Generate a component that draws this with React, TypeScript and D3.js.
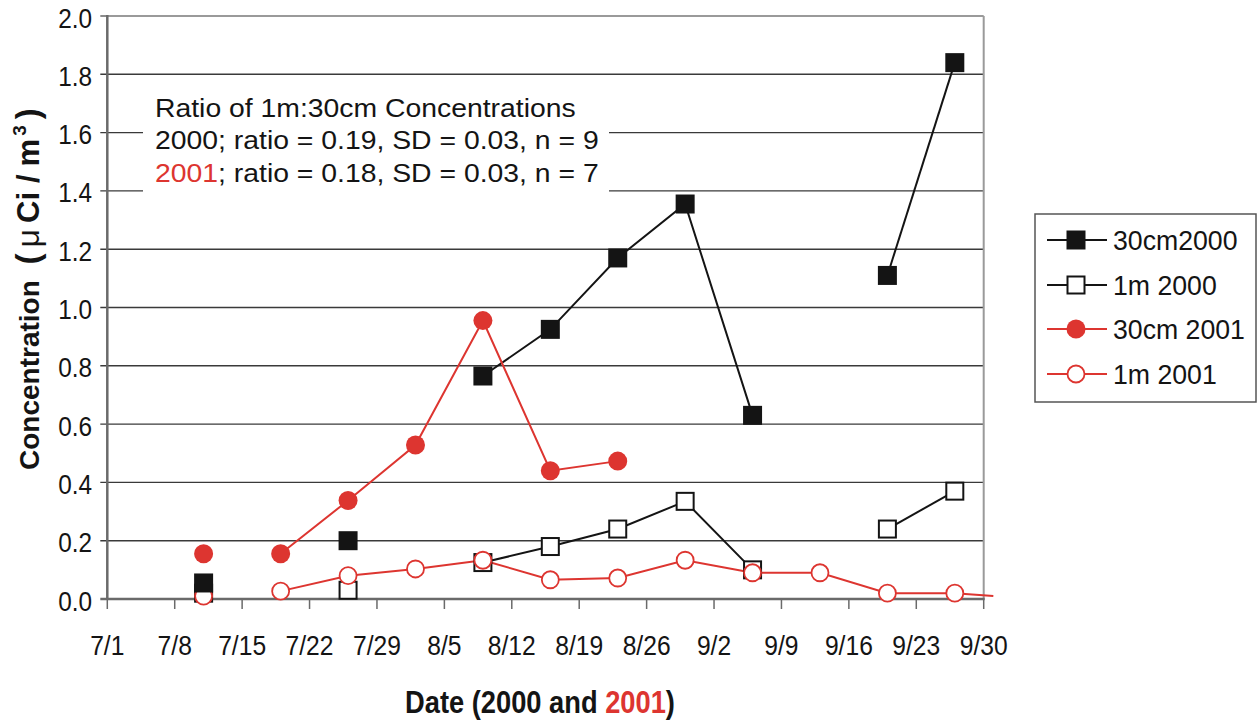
import React from "react";
import * as d3 from "d3";

// tick labels
const xTickLabels = ["7/1", "7/8", "7/15", "7/22", "7/29", "8/5", "8/12", "8/19", "8/26", "9/2", "9/9", "9/16", "9/23", "9/30"];
const yTicks = [0, 0.2, 0.4, 0.6, 0.8, 1.0, 1.2, 1.4, 1.6, 1.8, 2.0];

// each series is a list of connected runs: [date, value]
const cm30_2000: [string, number][][] = [
  [["7/11", 0.055]],
  [["7/26", 0.2]],
  [["8/9", 0.765], ["8/16", 0.925], ["8/23", 1.17], ["8/30", 1.355], ["9/6", 0.63]],
  [["9/20", 1.11], ["9/27", 1.84]],
];
const m1_2000: [string, number][][] = [
  [["7/11", 0.02]],
  [["7/26", 0.03]],
  [["8/9", 0.125], ["8/16", 0.18], ["8/23", 0.24], ["8/30", 0.335], ["9/6", 0.1]],
  [["9/20", 0.24], ["9/27", 0.37]],
];
const cm30_2001: [string, number][][] = [
  [["7/11", 0.155]],
  [["7/19", 0.155], ["7/26", 0.338], ["8/2", 0.528], ["8/9", 0.955], ["8/16", 0.44], ["8/23", 0.473]],
];
const m1_2001: [string, number][][] = [
  [["7/11", 0.01]],
  [["7/19", 0.027], ["7/26", 0.08], ["8/2", 0.103], ["8/9", 0.133], ["8/16", 0.066], ["8/23", 0.072], ["8/30", 0.133],
   ["9/6", 0.09], ["9/13", 0.09], ["9/20", 0.02], ["9/27", 0.02], ["10/1", 0.01]],
];

const BLACK = "#141414";
const RED = "#dd3530";
const FONT = "'Liberation Sans', Arial, Helvetica, sans-serif";

const series = [
  { name: "30cm2000", runs: cm30_2000, color: BLACK, shape: "square", filled: true },
  { name: "1m 2000", runs: m1_2000, color: BLACK, shape: "square", filled: false },
  { name: "30cm 2001", runs: cm30_2001, color: RED, shape: "circle", filled: true },
  { name: "1m 2001", runs: m1_2001, color: RED, shape: "circle", filled: false },
];
// marker stacking order (back to front)
const markerOrder = ["1m 2000", "1m 2001", "30cm 2001", "30cm2000"];

const parseDay = (s: string) => {
  const [m, d] = s.split("/").map(Number);
  return new Date(Date.UTC(2000, m - 1, d));
};

const W = 1257, H = 721;
const left = 107.3, right = 983.7, top = 16, bottom = 599;

const x = d3.scaleUtc().domain([parseDay("7/1"), parseDay("9/30")]).range([left, right]);
const y = d3.scaleLinear().domain([0, 2]).range([bottom, top]);

const line = d3.line<[string, number]>()
  .x(d => x(parseDay(d[0])))
  .y(d => y(d[1]));

function Marker({ cx, cy, shape, filled, color }: any) {
  if (shape === "square") {
    return filled
      ? <rect x={cx - 9.5} y={cy - 9.5} width={19} height={19} fill={color} />
      : <rect x={cx - 8.5} y={cy - 8.5} width={17} height={17} fill="white" stroke={color} strokeWidth={2} />;
  }
  return filled
    ? <circle cx={cx} cy={cy} r={9.5} fill={color} />
    : <circle cx={cx} cy={cy} r={8.5} fill="white" stroke={color} strokeWidth={1.8} />;
}

function Txt({ x, y, sx = 1, anchor = "start", size, weight = "normal", fill = BLACK, children }: any) {
  return (
    <g transform={`translate(${x},${y}) scale(${sx},1)`}>
      <text textAnchor={anchor} fontSize={size} fontWeight={weight} fill={fill} fontFamily={FONT}>{children}</text>
    </g>
  );
}

export default function App() {
  const xMax = parseDay("9/30");
  const legendRows = [240, 285, 329, 374];

  return (
    <div style={{ position: "absolute", left: 0, top: 0 }}>
      <svg width={W} height={H} style={{ display: "block", background: "white" }}>
        {/* grid */}
        {yTicks.filter(v => v > 0 && v < 2).map(v => (
          <line key={v} x1={left - 7} x2={right} y1={y(v)} y2={y(v)} stroke="#3a3a3a" strokeWidth={1.4} />
        ))}
        {/* plot border top/right */}
        <line x1={left} x2={right} y1={top} y2={top} stroke="#9a9a9a" strokeWidth={2} />
        <line x1={right} x2={right} y1={top} y2={bottom} stroke="#9a9a9a" strokeWidth={2} />
        <line x1={left - 7} x2={left} y1={top} y2={top} stroke="#666" strokeWidth={1.5} />

        {/* annotation box */}
        <rect x={143} y={80} width={466} height={116} fill="white" />
        <Txt x={155} y={116.7} size={26.5} sx={1.07}>Ratio of 1m:30cm Concentrations</Txt>
        <Txt x={155} y={149.3} size={26.5} sx={1.07}>2000; ratio = 0.19, SD = 0.03, n = 9</Txt>
        <Txt x={155} y={181.7} size={26.5} sx={1.07}>
          <tspan fill={RED}>2001</tspan>; ratio = 0.18, SD = 0.03, n = 7
        </Txt>

        {/* axes */}
        <line x1={left} x2={left} y1={top - 1} y2={bottom + 1} stroke="#6a6a6a" strokeWidth={2.5} />
        <line x1={left - 7} x2={right + 1} y1={bottom} y2={bottom} stroke="#6a6a6a" strokeWidth={2.5} />
        {xTickLabels.map(t => (
          <line key={t} x1={x(parseDay(t))} x2={x(parseDay(t))} y1={bottom} y2={bottom + 10} stroke="#6a6a6a" strokeWidth={1.5} />
        ))}
        {yTicks.map(v => (
          <Txt key={v} x={92} y={y(v) + 11.5} size={28} sx={0.87} anchor="end">{v.toFixed(1)}</Txt>
        ))}
        {xTickLabels.map(t => (
          <Txt key={t} x={x(parseDay(t))} y={655} size={28} sx={0.88} anchor="middle">{t}</Txt>
        ))}

        {/* axis titles */}
        <Txt x={540} y={713} size={31} sx={0.88} weight="bold" anchor="middle">
          Date (2000 and <tspan fill={RED}>2001</tspan>)
        </Txt>
        <g transform="translate(39,470) rotate(-90)">
          <text textAnchor="start" fontSize={28} fontWeight="bold" fill={BLACK} fontFamily={FONT}>
            Concentration <tspan dx={8} fontSize={33}>(</tspan><tspan dx={6} fontSize={32} fontWeight="normal">μ</tspan><tspan dx={6} fontSize={31}>Ci</tspan><tspan dx={9} fontSize={31}>/</tspan><tspan dx={8} fontSize={31}>m</tspan><tspan fontSize={19} dy={-13} dx={3}>3</tspan><tspan dy={13} dx={6} fontSize={33}>)</tspan>
          </text>
        </g>

        {/* lines */}
        {series.map(s => s.runs.filter(r => r.length > 1).map((r, i) => (
          <path key={s.name + i} d={line(r) || ""} fill="none" stroke={s.color} strokeWidth={2} />
        )))}
        {/* markers */}
        {markerOrder.map(n => {
          const s = series.find(q => q.name === n)!;
          return s.runs.flat().filter(p => parseDay(p[0]) <= xMax).map((p, i) => (
            <Marker key={n + i} cx={x(parseDay(p[0]))} cy={y(p[1])} shape={s.shape} filled={s.filled} color={s.color} />
          ));
        })}

        {/* legend */}
        <rect x={1035} y={214} width={221} height={188} fill="white" stroke="#555" strokeWidth={1.5} />
        {series.map((s, i) => (
          <g key={s.name}>
            <line x1={1047} x2={1107} y1={legendRows[i]} y2={legendRows[i]} stroke={s.color} strokeWidth={2.2} />
            <Marker cx={1076} cy={legendRows[i]} shape={s.shape} filled={s.filled} color={s.color} />
            <Txt x={1113} y={legendRows[i] + 10} size={27.5} sx={0.97}>{s.name}</Txt>
          </g>
        ))}
      </svg>
    </div>
  );
}
